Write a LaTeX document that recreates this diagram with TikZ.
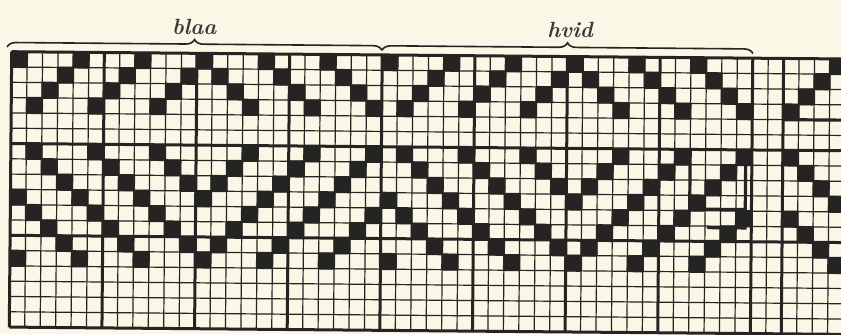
\documentclass[tikz,border=0pt]{standalone}
\usetikzlibrary{decorations.pathreplacing}
\definecolor{paper}{RGB}{250,247,230}
\definecolor{ink}{RGB}{38,36,34}
\tikzset{
  thin rule/.style={draw=ink, line width=0.6pt},
  thick rule/.style={draw=ink, line width=1.5pt},
  dot/.style={fill=ink, rounded corners=0.8pt},
  pen line/.style={draw=ink, line width=1.6pt, line cap=round},
  wide brace/.style={draw=ink, line width=0.8pt, decorate,
    decoration={brace, amplitude=4.5pt}},
  label text/.style={font=\fontsize{11}{13}\selectfont\bfseries\itshape, text=ink!90}
}
\begin{document}
\begin{tikzpicture}[x=0.5pt, y=-0.5pt]
\fill[paper] (0,0) rectangle (841,334);
\useasboundingbox (0,0) rectangle (841,334);
\clip (0,0) rectangle (841,334);
\begin{scope}[rotate around={-0.5:(12,52)}]
  % braces over the two colour groups
  \coordinate (blaa-l) at (7,47);
  \coordinate (blaa-r) at (382,47);
  \coordinate (hvid-r) at (753,47);
  \draw[wide brace] (blaa-l) -- (blaa-r);
  \draw[wide brace] (blaa-r) -- (hvid-r);
  \node[label text] (blaa) at (194,25) {blaa};
  \node[label text] (hvid) at (570,25) {hvid};
  % the squared paper, one unit per cell
  \begin{scope}[shift={(11.7,51.7)}, x=7.72pt, y=-7.65pt]
    \foreach \i in {0,...,54}
      \draw[thin rule] (\i,0) -- (\i,18);
    \foreach \j in {0,...,18}
      \draw[thin rule] (0,\j) -- (55,\j);
    \foreach \i in {0,6,...,48,50}
      \draw[thick rule] (\i,0) -- (\i,18);
    \foreach \j in {0,6,12,18}
      \draw[thick rule] (0,\j) -- (55,\j);
    % filled cells: threading on top, twice below
    \foreach \s [count=\c from 0] in {0,3,2,1,0,3,2,1,0,3,2,1,0,1,2,3,0,1,2,3,0,1,2,3,
        0,3,2,1,0,3,2,1,0,3,2,1,0,1,2,3,0,1,2,3,0,1,2,3,-1,-1,3,2,1,0}{
      \ifnum\s>-1
        \foreach \r in {\s, 9-\s, 13-\s}
          \fill[dot] (\c-0.06,\r-0.06) rectangle ++(1.12,1.12);
      \fi
    }
    % pencil marks round the repeat
    \draw[pen line] (50,4) -- (55,4);
    \draw[pen line] (44,6.1) -- (44,9.9) -- (47.6,9.9);
    \draw[pen line] (45.2,11.1) -- (47.6,11.1) -- (47.6,6.3);
  \end{scope}
\end{scope}
\end{tikzpicture}
\end{document}
